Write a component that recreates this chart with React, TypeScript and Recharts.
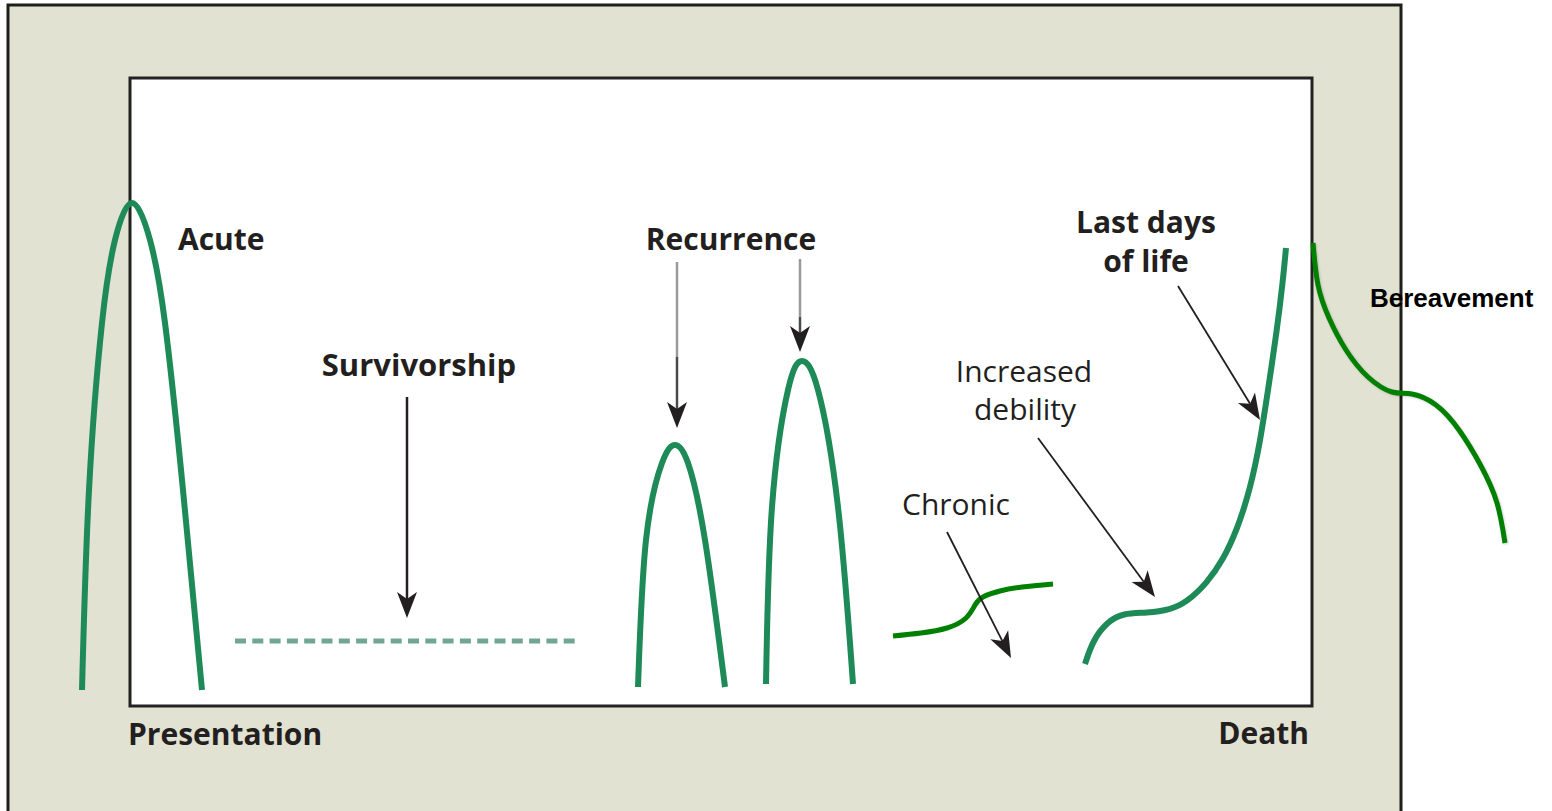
import { ComposedChart, Line, XAxis, YAxis, ReferenceArea, ReferenceLine, ReferenceDot } from 'recharts'

const W = 1552
const H = 811

// x = position along the illness trajectory, y = distance down from the top of the frame
const acute = [[82, 690], [89, 490], [102, 323], [115, 240], [132, 203], [150, 240], [165, 323], [183, 490], [202, 690]]
const survivorship = [[235, 641], [575, 641]]
const recurrence1 = [[638, 687], [646, 540], [662, 463], [675, 445], [688, 463], [705, 540], [725, 687]]
const recurrence2 = [[766, 684], [772, 507], [788, 390], [802, 361], [818, 390], [838, 507], [853, 684]]
const chronic = [[893, 636], [921, 633], [947, 628], [966, 618], [975, 605], [983, 597], [1000, 591], [1022, 587], [1053, 584]]
const debility = [[1085, 664], [1093, 640], [1107, 622], [1123, 613], [1147, 613], [1170, 610], [1187, 602], [1207, 583], [1223, 560], [1237, 530], [1250, 490], [1260, 443], [1268, 390], [1277, 330], [1283, 280], [1286, 248]]
const bereavement = [[1313, 243], [1318, 285], [1329, 318], [1346, 350], [1368, 377], [1392, 392], [1412, 394], [1436, 405], [1459, 430], [1481, 466], [1497, 503], [1505, 543]]

const pts = (a: number[][]) => a.map(([x, y]) => ({ x, y }))

const INK = '#231f20'
const TEAL = '#1e8a57'
const GREEN = '#008000'

interface Lbl { text: string; x: number; y: number; anchor: 'start' | 'middle' | 'end'; bold?: boolean; font?: string; size?: number; color?: string }
const labels: Lbl[] = [
  { text: 'Acute', x: 178, y: 250, anchor: 'start', bold: true },
  { text: 'Survivorship', x: 419, y: 376, anchor: 'middle', bold: true, size: 31 },
  { text: 'Recurrence', x: 731, y: 250, anchor: 'middle', bold: true },
  { text: 'Chronic', x: 956, y: 515, anchor: 'middle' },
  { text: 'Increased', x: 1024, y: 382, anchor: 'middle' },
  { text: 'debility', x: 1025, y: 420, anchor: 'middle' },
  { text: 'Last days', x: 1146, y: 233, anchor: 'middle', bold: true },
  { text: 'of life', x: 1146, y: 272, anchor: 'middle', bold: true },
  { text: 'Presentation', x: 128, y: 745, anchor: 'start', bold: true },
  { text: 'Death', x: 1309, y: 744, anchor: 'end', bold: true },
  { text: 'Bereavement', x: 1370, y: 307, anchor: 'start', bold: true, font: '"Liberation Sans", Arial, sans-serif', size: 26, color: '#000' },
]

interface Arr { from: [number, number]; to: [number, number]; color: string; width: number; head: boolean }
const arrows: Arr[] = [
  { from: [407, 397], to: [407, 618], color: INK, width: 2.5, head: true },
  { from: [677, 262], to: [677, 357], color: '#9a9a9a', width: 2.5, head: false },
  { from: [677, 357], to: [677, 428], color: '#4a4a4a', width: 2.5, head: true },
  { from: [800, 259], to: [800, 317], color: '#9a9a9a', width: 2.5, head: false },
  { from: [800, 317], to: [800, 352], color: '#4a4a4a', width: 2.5, head: true },
  { from: [947, 532], to: [1011, 658], color: INK, width: 1.8, head: true },
  { from: [1038, 438], to: [1155, 597], color: INK, width: 1.8, head: true },
  { from: [1178, 286], to: [1260, 420], color: INK, width: 1.8, head: true },
]

function arrowShape(color: string, width: number, head: boolean) {
  return (p: any) => {
    const { x1, y1, x2, y2 } = p
    const dx = x2 - x1, dy = y2 - y1
    const len = Math.hypot(dx, dy) || 1
    const ux = dx / len, uy = dy / len
    const nx = -uy, ny = ux
    const L = 26, hw = 10, notch = 7
    if (!head) return <line x1={x1} y1={y1} x2={x2} y2={y2} stroke={color} strokeWidth={width} />
    const bx = x2 - ux * L, by = y2 - uy * L
    const mx = x2 - ux * (L - notch), my = y2 - uy * (L - notch)
    const poly = [[x2, y2], [bx + nx * hw, by + ny * hw], [mx, my], [bx - nx * hw, by - ny * hw]].map(q => q.join(',')).join(' ')
    return (
      <g>
        <line x1={x1} y1={y1} x2={mx} y2={my} stroke={color} strokeWidth={width} />
        <polygon points={poly} fill={INK} />
      </g>
    )
  }
}

function textShape(l: Lbl) {
  return (p: any) => (
    <text x={p.cx} y={p.cy} textAnchor={l.anchor} fontFamily={l.font ?? '"Open Sans", sans-serif'}
      fontSize={l.size ?? 30} fontWeight={l.bold ? 700 : 400} fill={l.color ?? INK}>{l.text}</text>
  )
}

export default function App() {
  return (
    <div style={{ position: 'absolute', left: 0, top: 0, width: W, height: H, background: '#fff' }}>
      <ComposedChart width={W} height={H} margin={{ top: 0, right: 0, bottom: 0, left: 0 }}>
        <XAxis type="number" dataKey="x" domain={[0, W]} hide allowDataOverflow />
        <YAxis type="number" dataKey="y" domain={[0, H]} reversed hide allowDataOverflow />

        <ReferenceArea x1={8} x2={1401} y1={5} y2={840} fill="#e1e2d1" fillOpacity={1} stroke="#1f1f1a" strokeWidth={3} ifOverflow="visible" />
        <ReferenceArea x1={130} x2={1312} y1={78} y2={706} fill="#fff" fillOpacity={1} stroke="#222" strokeWidth={3} ifOverflow="visible" />

        <Line data={pts(acute)} dataKey="y" type="natural" stroke={TEAL} strokeWidth={6} dot={false} activeDot={false} isAnimationActive={false} />
        <Line data={pts(survivorship)} dataKey="y" type="linear" stroke="#72a694" strokeWidth={5} strokeDasharray="11 6.3" dot={false} activeDot={false} isAnimationActive={false} />
        <Line data={pts(recurrence1)} dataKey="y" type="natural" stroke={TEAL} strokeWidth={6} dot={false} activeDot={false} isAnimationActive={false} />
        <Line data={pts(recurrence2)} dataKey="y" type="natural" stroke={TEAL} strokeWidth={6} dot={false} activeDot={false} isAnimationActive={false} />
        <Line data={pts(chronic)} dataKey="y" type="natural" stroke={GREEN} strokeWidth={5} dot={false} activeDot={false} isAnimationActive={false} />
        <Line data={pts(debility)} dataKey="y" type="basis" stroke={TEAL} strokeWidth={6} dot={false} activeDot={false} isAnimationActive={false} />
        <Line data={pts(bereavement)} dataKey="y" type="natural" stroke={GREEN} strokeWidth={5} dot={false} activeDot={false} isAnimationActive={false}
          style={{ filter: 'drop-shadow(1px 1px 1px rgba(0,0,0,0.18))' }} />

        {arrows.map((a, i) => (
          <ReferenceLine key={'a' + i} segment={[{ x: a.from[0], y: a.from[1] }, { x: a.to[0], y: a.to[1] }]}
            ifOverflow="visible" shape={arrowShape(a.color, a.width, a.head)} />
        ))}
        {labels.map((l, i) => (
          <ReferenceDot key={'t' + i} x={l.x} y={l.y} r={0} ifOverflow="visible" shape={textShape(l)} />
        ))}
      </ComposedChart>
    </div>
  )
}
